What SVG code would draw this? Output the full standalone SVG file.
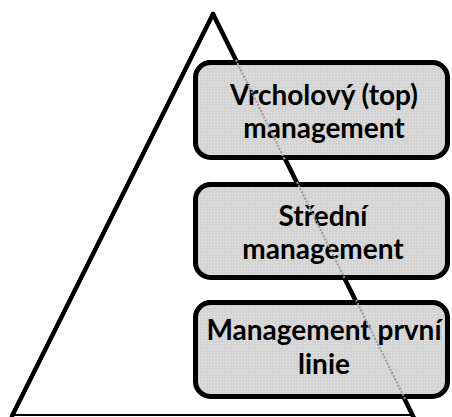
<svg xmlns="http://www.w3.org/2000/svg" width="452" height="417" viewBox="0 0 452 417">
  <defs>
    <pattern id="dots" width="3" height="3" patternUnits="userSpaceOnUse">
      <rect width="3" height="3" fill="#d4d4d4"/>
      <rect x="1" y="1" width="1" height="1" fill="#e6e6e6"/>
    </pattern>
  </defs>
  <style>
    .edge { stroke: #000; stroke-width: 4.5; fill: none; stroke-linecap: round; }
    .base { stroke: #000; stroke-width: 2; fill: none; }
    .box { fill: url(#dots); stroke: #000; stroke-width: 5; }
    .ghost { stroke: #9a9a9a; stroke-width: 2; stroke-dasharray: 2 1.5; fill: none; }
    .lbl { font-family: Lato, "Open Sans", "Liberation Sans", sans-serif; font-weight: bold; font-size: 28px; fill: #000; text-anchor: middle; }
  </style>

  <!-- pyramid outline -->
  <g id="connectors">
    <line class="edge" x1="213" y1="14" x2="12" y2="416"/>
    <line class="edge" x1="213" y1="14" x2="414" y2="418"/>
    <line class="base" x1="12" y1="415" x2="414" y2="415"/>
  </g>

  <g id="top">
    <rect class="box" x="195.5" y="62.5" width="252" height="95" rx="15"/>
    <text class="lbl" x="324" y="105">Vrcholový (top)</text>
    <text class="lbl" x="324" y="138">management</text>
  </g>

  <g id="middle">
    <rect class="box" x="195.5" y="184.5" width="252" height="93" rx="15"/>
    <text class="lbl" x="323" y="226">Střední</text>
    <text class="lbl" x="323" y="259">management</text>
  </g>

  <g id="first-line">
    <rect class="box" x="195.5" y="302.5" width="252" height="94" rx="15"/>
    <text class="lbl" x="324" y="340">Management první</text>
    <text class="lbl" x="324" y="374">linie</text>
  </g>

  <!-- pyramid edge seen through the boxes -->
  <g id="edge-through">
    <line class="ghost" x1="236" y1="60" x2="285" y2="160"/>
    <line class="ghost" x1="297" y1="182" x2="345" y2="279"/>
    <line class="ghost" x1="356" y1="300" x2="405" y2="399"/>
  </g>
</svg>
